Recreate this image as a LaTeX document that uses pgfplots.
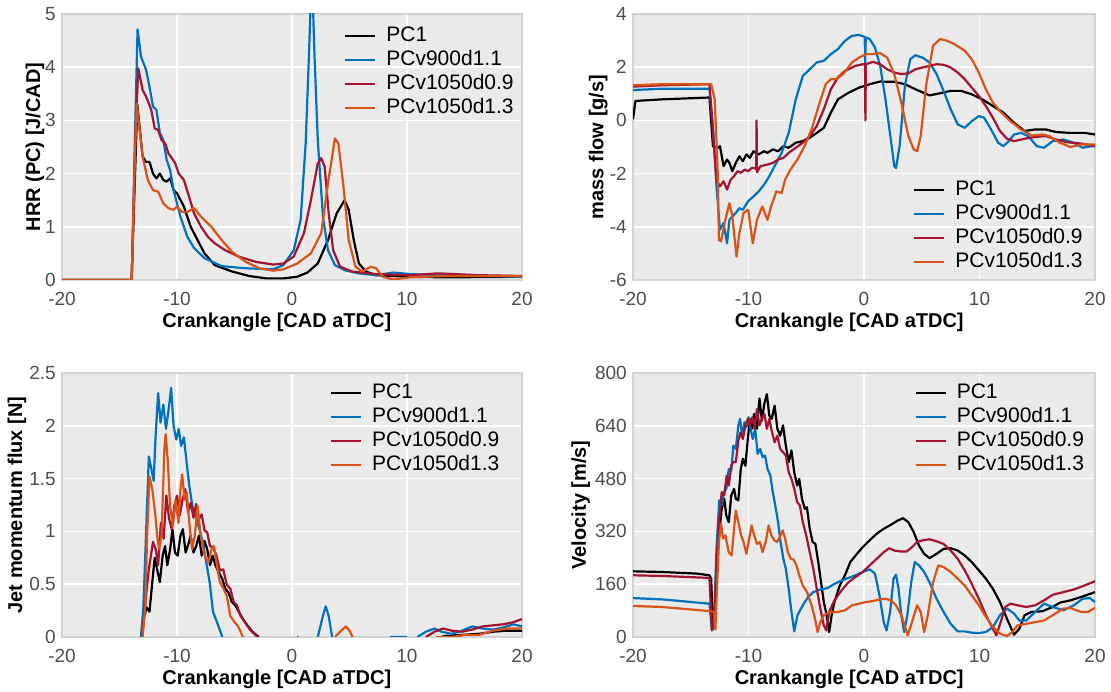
\documentclass[border=0pt]{standalone}
\usepackage{fontspec}
\setmainfont{Liberation Sans}
\usepackage{pgfplots}
\pgfplotsset{compat=1.18}
\definecolor{bgc}{HTML}{EAEAEA}
\definecolor{framec}{HTML}{D2D2D2}
\definecolor{tickc}{HTML}{4D4D4D}
\definecolor{cblk}{HTML}{000000}
\definecolor{cblu}{HTML}{0072BD}
\definecolor{cred}{HTML}{A2142F}
\definecolor{corg}{HTML}{D95319}
\pgfplotsset{
  panel/.style={
    scale only axis,
    xmin=-20, xmax=20,
    axis background/.style={fill=bgc},
    axis line style={draw=framec, line width=1.5pt},
    grid=major, major grid style={white, line width=1.5pt},
    xtick={-20,-10,0,10,20},
    major tick length=0pt,
    /pgf/number format/assume math mode=true,
    tick label style={font=\fontsize{19}{21}\selectfont, text=tickc, inner sep=1pt},
    xticklabel style={yshift=-11pt},
    yticklabel style={xshift=-5pt},
    label style={font=\fontsize{20}{22}\selectfont\bfseries},
    xlabel={Crankangle [CAD aTDC]},
    legend style={draw=none, fill=none, inner sep=0pt, font=\fontsize{21}{23}\selectfont,
      nodes={inner sep=2pt, text height=15pt, text depth=4pt, anchor=west}, row sep=1pt, column sep=8pt},
    legend cell align=left,
    legend image code/.code={\draw[##1] (0pt,0pt) -- (30pt,0pt);},
    every axis plot/.append style={line width=2.2pt, line join=round},
    unbounded coords=jump,
  }
}
\begin{document}
\begin{tikzpicture}
\path[use as bounding box] (0,0) rectangle (1111pt,692pt);
% ---------------- Top-left: HRR
\begin{axis}[panel, at={(62pt,412pt)}, anchor=south west, width=460pt, height=266pt,
  ymin=0, ymax=5, ytick={0,1,2,3,4,5},
  ylabel={HRR (PC) [J/CAD]},
  xlabel style={at={(axis description cs:0.467,-0.158)}, anchor=center},
  ylabel style={at={(axis description cs:-0.059,0.5)}, anchor=center},
  legend style={at={(axis description cs:0.613,0.962)}, anchor=north west}]
\addplot[cblk] coordinates {(-20,0)(-13.95,0)(-13.45,3.3)(-12.99,2.32)(-12.69,2.22)(-12.39,2.22)(-12.09,2.0)(-11.79,1.91)(-11.49,2.0)(-11.19,1.88)(-10.9,1.85)(-10.6,1.91)(-10.3,1.69)(-10.0,1.63)(-9.4,1.38)(-8.81,1.0)(-8.21,0.75)(-7.61,0.5)(-6.72,0.28)(-5.22,0.16)(-3.73,0.075)(-2.24,0.03)(-0.75,0.03)(0.45,0.06)(1.34,0.14)(2.24,0.31)(3.13,0.75)(3.88,1.25)(4.57,1.5)(4.93,1.32)(5.37,0.75)(5.82,0.31)(6.42,0.16)(7.31,0.09)(10.3,0.06)(13.28,0.05)(20,0.06)};
\addlegendentry{PC1}
\addplot[cblu] coordinates {(-20,0)(-13.94,0)(-13.6,3.2)(-13.43,4.71)(-13.3,4.5)(-13.13,4.2)(-12.69,3.95)(-12.39,3.63)(-12.09,3.26)(-11.79,3.2)(-11.49,2.76)(-11.19,2.63)(-10.9,2.26)(-10.6,2.07)(-10.3,1.69)(-9.7,1.19)(-9.1,0.81)(-8.51,0.6)(-7.61,0.41)(-6.12,0.26)(-4.03,0.22)(-1.64,0.2)(-0.75,0.28)(0.15,0.56)(0.75,1.13)(1.19,2.57)(1.49,4.32)(1.72,5.9)(1.94,4.32)(2.24,2.63)(2.69,1.19)(3.13,0.56)(3.73,0.28)(4.63,0.18)(5.82,0.125)(7.31,0.09)(8.81,0.14)(10.3,0.11)(13.28,0.09)(20,0.06)};
\addlegendentry{PCv900d1.1}
\addplot[cred] coordinates {(-20,0)(-13.94,0)(-13.6,2.8)(-13.37,3.98)(-12.99,3.57)(-12.69,3.45)(-12.24,3.2)(-11.94,2.85)(-11.64,2.82)(-11.34,2.63)(-11.04,2.57)(-10.75,2.38)(-10.45,2.29)(-10.15,2.19)(-9.85,2.0)(-9.4,1.88)(-8.96,1.57)(-8.51,1.25)(-7.91,1.0)(-7.31,0.81)(-6.72,0.69)(-5.82,0.56)(-4.63,0.44)(-3.13,0.34)(-1.64,0.29)(-0.75,0.31)(0.15,0.44)(1.04,0.88)(1.64,1.5)(2.24,2.19)(2.54,2.29)(2.84,2.13)(3.19,1.25)(3.58,0.56)(4.18,0.25)(5.22,0.16)(7.31,0.11)(10.3,0.09)(12.69,0.125)(16.27,0.09)(20,0.075)};
\addlegendentry{PCv1050d0.9}
\addplot[corg] coordinates {(-20,0)(-13.94,0)(-13.65,2.4)(-13.49,3.32)(-13.22,2.76)(-12.99,2.32)(-12.54,1.88)(-12.09,1.69)(-11.64,1.66)(-11.19,1.44)(-10.75,1.35)(-10.3,1.32)(-10.0,1.38)(-9.55,1.28)(-9.1,1.28)(-8.51,1.35)(-7.91,1.19)(-7.01,1.0)(-6.12,0.75)(-5.22,0.53)(-4.03,0.34)(-2.84,0.22)(-1.64,0.175)(-0.75,0.2)(0.45,0.31)(1.64,0.5)(2.54,0.88)(3.13,1.82)(3.73,2.66)(4.03,2.57)(4.48,1.75)(4.93,0.75)(5.52,0.25)(6.12,0.16)(6.87,0.25)(7.31,0.22)(7.91,0.06)(8.81,0.01)(10.3,0.05)(13.28,0.075)(20,0.075)};
\addlegendentry{PCv1050d1.3}
\end{axis}
% ---------------- Top-right: mass flow
\begin{axis}[panel, at={(633pt,412pt)}, anchor=south west, width=462pt, height=266pt,
  ymin=-6, ymax=4, ytick={-6,-4,-2,0,2,4},
  ylabel={mass flow [g/s]},
  xlabel style={at={(axis description cs:0.468,-0.158)}, anchor=center},
  ylabel style={at={(axis description cs:-0.075,0.5)}, anchor=center},
  legend style={at={(axis description cs:0.606,0.382)}, anchor=north west}]
\addplot[cblk] coordinates {(-20,0.04)(-19.79,0.73)(-17.5,0.79)(-13.38,0.86)(-13.08,-0.97)(-12.62,-1.03)(-12.47,-0.97)(-12.16,-1.72)(-11.86,-1.47)(-11.65,-1.6)(-11.4,-1.91)(-11.1,-1.6)(-10.79,-1.35)(-10.49,-1.53)(-10.18,-1.28)(-9.88,-1.41)(-9.57,-1.16)(-9.12,-1.28)(-8.66,-1.16)(-8.35,-1.22)(-7.9,-1.09)(-7.44,-1.16)(-6.98,-0.97)(-6.52,-1.03)(-5.91,-0.84)(-5.3,-0.78)(-4.7,-0.65)(-4.09,-0.47)(-3.48,-0.28)(-2.87,0.29)(-2.26,0.79)(-1.34,1.04)(-0.43,1.23)(0.49,1.36)(1.4,1.46)(2.62,1.45)(3.54,1.36)(4.45,1.17)(5.67,0.94)(6.59,1.02)(7.5,1.11)(8.41,1.11)(9.33,0.98)(10.24,0.79)(11.16,0.54)(12.07,0.29)(12.99,-0.09)(13.9,-0.4)(14.82,-0.34)(15.73,-0.34)(16.65,-0.44)(17.87,-0.47)(19.09,-0.47)(20,-0.53)};
\addlegendentry{PC1}
\addplot[cblu] coordinates {(-20,1.14)(-17.5,1.19)(-13.38,1.19)(-13.08,-0.21)(-12.77,-2.48)(-12.47,-4.11)(-12.16,-3.86)(-11.86,-4.62)(-11.65,-3.74)(-11.4,-3.61)(-11.1,-3.48)(-10.79,-3.3)(-10.49,-3.36)(-10.03,-3.04)(-9.57,-2.86)(-9.12,-2.67)(-8.66,-2.42)(-8.2,-2.1)(-7.74,-1.72)(-7.13,-1.22)(-6.52,-0.47)(-5.91,0.79)(-5.3,1.67)(-4.7,1.92)(-4.09,2.18)(-3.48,2.24)(-2.87,2.49)(-2.26,2.68)(-1.65,2.99)(-1.04,3.18)(-0.43,3.21)(0.06,3.14)(0.1,2.1)(0.15,3.12)(0.49,3.06)(0.95,2.74)(1.4,2.05)(1.86,0.79)(2.32,-0.72)(2.62,-1.72)(2.77,-1.79)(3.08,-0.97)(3.54,1.3)(4.0,2.3)(4.45,2.45)(5.06,2.36)(5.67,2.18)(6.28,1.74)(6.89,1.11)(7.5,0.42)(8.11,-0.15)(8.72,-0.28)(9.33,-0.03)(9.94,0.16)(10.4,0.1)(11.0,-0.34)(11.61,-0.84)(12.07,-0.97)(12.53,-0.78)(12.99,-0.53)(13.6,-0.47)(14.21,-0.59)(14.97,-0.97)(15.58,-1.03)(16.34,-0.78)(17.26,-0.72)(18.17,-0.84)(18.93,-1.03)(19.7,-0.97)(20,-0.97)};
\addlegendentry{PCv900d1.1}
\addplot[cred] coordinates {(-20,1.27)(-17.5,1.32)(-13.38,1.36)(-13.08,-0.47)(-12.77,-2.23)(-12.47,-2.48)(-12.16,-2.29)(-11.86,-2.6)(-11.55,-2.23)(-11.25,-2.1)(-10.95,-1.91)(-10.64,-1.97)(-10.34,-1.85)(-10.03,-1.91)(-9.73,-1.79)(-9.42,-1.79)(-9.33,-1.85)(-9.3,0)(-9.27,-1.95)(-8.96,-1.72)(-8.35,-1.66)(-7.9,-1.6)(-7.44,-1.47)(-6.98,-1.41)(-6.52,-1.22)(-5.91,-1.03)(-5.3,-0.84)(-4.7,-0.59)(-4.09,-0.21)(-3.48,0.42)(-2.87,1.17)(-2.26,1.61)(-1.65,1.86)(-0.73,2.05)(-0.12,2.11)(0.09,2.11)(0.12,0)(0.16,2.11)(0.79,2.2)(1.4,2.11)(2.01,1.92)(2.62,1.8)(3.23,1.74)(3.84,1.77)(4.45,1.92)(5.06,1.99)(5.67,2.05)(6.28,2.11)(6.89,2.09)(7.5,1.99)(8.11,1.8)(8.72,1.55)(9.33,1.23)(9.94,0.92)(10.55,0.54)(11.16,0.1)(11.77,-0.4)(12.38,-0.69)(12.99,-0.78)(13.9,-0.69)(14.82,-0.62)(15.73,-0.59)(16.65,-0.72)(17.56,-0.82)(18.78,-0.87)(20,-0.97)};
\addlegendentry{PCv1050d0.9}
\addplot[corg] coordinates {(-20,1.32)(-17.5,1.36)(-13.23,1.36)(-12.93,0.79)(-12.68,-1.72)(-12.56,-4.49)(-12.38,-4.55)(-12.01,-3.74)(-11.65,-3.11)(-11.4,-3.61)(-11.04,-5.12)(-10.79,-4.24)(-10.43,-3.48)(-10.03,-3.36)(-9.63,-4.62)(-9.27,-3.74)(-8.81,-3.24)(-8.35,-3.74)(-8.05,-3.24)(-7.59,-2.67)(-7.13,-2.73)(-6.83,-2.23)(-6.37,-1.85)(-5.76,-1.47)(-5.15,-0.97)(-4.54,-0.34)(-3.93,0.54)(-3.32,1.36)(-2.87,1.55)(-2.41,1.55)(-1.8,1.74)(-1.04,2.18)(-0.43,2.36)(0.18,2.49)(0.79,2.49)(1.4,2.53)(2.01,2.36)(2.62,1.74)(3.23,0.67)(3.84,-0.59)(4.3,-1.09)(4.6,-1.16)(4.91,-0.59)(5.37,1.3)(5.98,2.81)(6.59,3.06)(7.2,2.99)(7.8,2.87)(8.72,2.62)(9.33,2.3)(9.94,1.8)(10.55,1.17)(11.16,0.67)(11.77,0.35)(12.68,-0.03)(13.6,-0.34)(14.51,-0.57)(15.43,-0.53)(16.04,-0.59)(16.95,-0.84)(17.87,-1.0)(18.78,-0.91)(20,-0.91)};
\addlegendentry{PCv1050d1.3}
\end{axis}
% ---------------- Bottom-left: jet momentum flux
\begin{axis}[panel, at={(62pt,55pt)}, anchor=south west, width=460pt, height=264pt,
  ymin=0, ymax=2.5, ytick={0,0.5,1,1.5,2,2.5},
  ylabel={Jet momentum flux [N]},
  xlabel style={at={(axis description cs:0.467,-0.16)}, anchor=center},
  ylabel style={at={(axis description cs:-0.098,0.5)}, anchor=center},
  legend style={at={(axis description cs:0.582,0.97)}, anchor=north west}]
\addplot[cblk] coordinates {(-13.13,0)(-12.84,0.2)(-12.63,0.28)(-12.39,0.24)(-12.15,0.52)(-11.94,0.75)(-11.73,0.64)(-11.49,0.52)(-11.25,0.77)(-11.04,0.86)(-10.84,0.68)(-10.6,0.83)(-10.39,1.02)(-10.18,0.8)(-9.94,0.77)(-9.7,0.96)(-9.49,1.02)(-9.25,0.8)(-9.01,0.88)(-8.81,0.96)(-8.57,0.8)(-8.33,0.86)(-8.09,0.96)(-7.85,0.77)(-7.61,0.91)(-7.37,0.83)(-7.13,0.68)(-6.9,0.77)(-6.66,0.68)(-6.36,0.61)(-6.06,0.55)(-5.82,0.46)(-5.52,0.42)(-5.22,0.33)(-4.93,0.3)(-4.63,0.24)(-4.27,0.17)(-3.88,0.11)(-3.43,0.05)(-2.9,0)(-2.8,nan)(13.0,0)(13.28,0.01)(14.78,0.02)(16.27,0.03)(17.46,0.05)(18.66,0.06)(20,0.06)};
\addlegendentry{PC1}
\addplot[cblu] coordinates {(-13.13,0)(-12.93,0.27)(-12.75,0.8)(-12.45,1.71)(-12.24,1.6)(-12.03,1.48)(-11.85,1.93)(-11.64,2.31)(-11.43,2.03)(-11.19,2.2)(-10.96,1.97)(-10.72,2.16)(-10.51,2.36)(-10.3,2.0)(-10.06,1.87)(-9.85,1.97)(-9.64,1.81)(-9.4,1.89)(-9.16,1.65)(-8.93,1.43)(-8.66,1.24)(-8.36,1.15)(-8.06,1.02)(-7.76,0.9)(-7.46,0.71)(-7.16,0.52)(-6.87,0.24)(-6.42,0.11)(-6.06,0)(-6,nan)(2.24,0)(2.69,0.2)(2.93,0.29)(3.19,0.2)(3.49,0)(3.6,nan)(8.51,0)(10.0,0)(10.2,nan)(10.9,0)(11.64,0.05)(12.39,0.08)(12.99,0.05)(13.88,0.03)(14.78,0.06)(15.67,0.1)(16.57,0.08)(17.46,0.07)(18.36,0.09)(19.25,0.12)(20,0.1)};
\addlegendentry{PCv900d1.1}
\addplot[cred] coordinates {(-13.04,0)(-12.75,0.33)(-12.45,0.64)(-12.09,0.9)(-11.85,0.83)(-11.64,0.68)(-11.4,1.08)(-11.16,0.93)(-10.93,1.34)(-10.69,1.12)(-10.45,1.02)(-10.24,1.24)(-10.0,1.34)(-9.76,1.15)(-9.52,1.3)(-9.28,1.4)(-9.04,1.18)(-8.81,1.27)(-8.57,1.13)(-8.33,1.26)(-8.09,1.12)(-7.85,1.16)(-7.61,1.01)(-7.37,0.99)(-7.13,0.86)(-6.87,0.85)(-6.57,0.77)(-6.27,0.63)(-5.97,0.64)(-5.67,0.49)(-5.37,0.46)(-5.07,0.33)(-4.78,0.3)(-4.48,0.2)(-4.09,0.14)(-3.73,0.08)(-3.28,0.03)(-2.99,0)(-2.9,nan)(0.45,0)(0.55,0)(0.6,nan)(11.64,0)(12.39,0.05)(13.13,0.08)(13.88,0.06)(14.78,0.05)(15.67,0.07)(16.57,0.1)(17.46,0.11)(18.36,0.12)(19.25,0.14)(20,0.17)};
\addlegendentry{PCv1050d0.9}
\addplot[corg] coordinates {(-12.99,0)(-12.75,0.3)(-12.6,0.96)(-12.39,1.52)(-12.15,1.4)(-11.91,1.18)(-11.73,0.96)(-11.55,0.83)(-11.34,0.96)(-11.1,1.78)(-10.99,1.92)(-10.81,1.68)(-10.6,1.24)(-10.36,1.05)(-10.12,1.3)(-9.88,1.08)(-9.7,1.4)(-9.55,1.54)(-9.34,1.3)(-9.16,1.37)(-8.93,1.08)(-8.69,0.83)(-8.45,0.96)(-8.21,1.24)(-7.97,0.99)(-7.73,0.83)(-7.49,0.74)(-7.25,0.71)(-7.01,0.83)(-6.78,0.86)(-6.54,0.68)(-6.27,0.52)(-5.97,0.46)(-5.67,0.39)(-5.37,0.2)(-4.99,0.14)(-4.63,0.09)(-4.27,0)(-4.2,nan)(3.73,0)(4.18,0.05)(4.69,0.1)(4.99,0.06)(5.28,0)(5.4,nan)(12.54,0)(13.88,0)(15.07,0.02)(16.27,0.02)(17.46,0.06)(18.66,0.08)(20,0.08)};
\addlegendentry{PCv1050d1.3}
\end{axis}
% ---------------- Bottom-right: velocity
\begin{axis}[panel, at={(633pt,55pt)}, anchor=south west, width=462pt, height=264pt,
  ymin=0, ymax=800, ytick={0,160,320,480,640,800},
  ylabel={Velocity [m/s]},
  xlabel style={at={(axis description cs:0.468,-0.16)}, anchor=center},
  ylabel style={at={(axis description cs:-0.113,0.5)}, anchor=center},
  legend style={at={(axis description cs:0.609,0.97)}, anchor=north west}]
\addplot[cblk] coordinates {(-20,199)(-17.5,197)(-14.45,192)(-13.38,187)(-13.23,177)(-13.08,25)(-12.93,45)(-12.77,217)(-12.56,308)(-12.32,388)(-12.1,419)(-11.92,368)(-11.71,348)(-11.49,429)(-11.25,449)(-11.1,419)(-10.88,414)(-10.67,509)(-10.49,540)(-10.27,519)(-10.06,600)(-9.88,661)(-9.7,631)(-9.51,676)(-9.27,631)(-9.05,723)(-8.84,656)(-8.63,707)(-8.41,736)(-8.2,671)(-7.99,661)(-7.74,701)(-7.5,631)(-7.26,610)(-7.01,641)(-6.77,580)(-6.52,530)(-6.28,565)(-6.04,499)(-5.79,459)(-5.61,479)(-5.37,419)(-5.12,388)(-4.94,393)(-4.7,328)(-4.45,288)(-4.21,282)(-3.96,227)(-3.72,166)(-3.48,106)(-3.23,66)(-3.02,15)(-2.8,66)(-2.56,106)(-2.1,156)(-1.65,187)(-1.19,227)(-0.73,247)(-0.12,272)(0.49,293)(1.1,313)(1.71,328)(2.32,340)(2.93,353)(3.38,360)(3.84,348)(4.3,318)(4.76,277)(5.21,252)(5.67,239)(6.28,252)(6.89,267)(7.5,269)(8.11,262)(8.72,247)(9.33,227)(9.94,202)(10.55,177)(11.16,146)(11.77,106)(12.38,55)(12.99,7)(13.45,25)(13.9,66)(14.51,76)(15.43,78)(16.34,91)(16.95,104)(17.87,111)(18.78,121)(20,136)};
\addlegendentry{PC1}
\addplot[cblu] coordinates {(-20,118)(-17.5,114)(-13.38,101)(-13.17,20)(-12.99,45)(-12.77,267)(-12.53,414)(-12.32,398)(-12.13,439)(-11.92,449)(-11.71,509)(-11.49,504)(-11.31,580)(-11.1,570)(-10.88,641)(-10.73,661)(-10.55,610)(-10.34,651)(-10.18,636)(-10.0,666)(-9.82,631)(-9.63,600)(-9.42,631)(-9.21,555)(-8.99,570)(-8.78,545)(-8.57,550)(-8.35,509)(-8.11,489)(-7.9,439)(-7.68,398)(-7.44,348)(-7.23,288)(-6.98,237)(-6.77,207)(-6.52,146)(-6.28,76)(-6.04,17)(-5.76,66)(-5.3,96)(-4.85,121)(-4.39,136)(-3.78,144)(-3.17,148)(-2.56,161)(-1.95,171)(-1.34,179)(-0.73,187)(-0.12,197)(0.49,205)(0.95,192)(1.34,126)(1.71,45)(1.95,20)(2.26,76)(2.56,177)(2.77,189)(2.99,146)(3.23,66)(3.48,15)(3.75,66)(4.09,166)(4.39,227)(4.76,217)(5.21,197)(5.67,166)(6.28,116)(6.89,76)(7.5,40)(8.11,17)(8.72,17)(9.33,13)(9.94,12)(10.55,15)(11.16,30)(11.77,66)(12.38,86)(12.99,71)(13.45,50)(14.05,50)(14.82,76)(15.58,101)(16.34,91)(17.26,81)(18.17,96)(18.93,116)(19.54,118)(20,106)};
\addlegendentry{PCv900d1.1}
\addplot[cred] coordinates {(-20,187)(-17.5,185)(-13.38,179)(-13.17,20)(-12.99,35)(-12.77,217)(-12.56,348)(-12.32,439)(-12.1,429)(-11.89,489)(-11.71,459)(-11.49,519)(-11.31,530)(-11.1,530)(-10.88,595)(-10.7,620)(-10.49,600)(-10.27,641)(-10.06,661)(-9.88,641)(-9.66,666)(-9.48,631)(-9.27,691)(-9.05,641)(-8.84,661)(-8.63,676)(-8.41,631)(-8.2,661)(-7.99,625)(-7.74,590)(-7.5,610)(-7.26,570)(-7.01,560)(-6.77,550)(-6.52,499)(-6.28,479)(-6.04,449)(-5.79,409)(-5.55,398)(-5.3,348)(-5.0,308)(-4.7,257)(-4.39,207)(-4.09,146)(-3.78,86)(-3.48,35)(-3.26,20)(-3.02,76)(-2.56,111)(-1.95,141)(-1.34,166)(-0.73,182)(-0.12,197)(0.49,217)(1.1,237)(1.71,257)(2.17,269)(2.62,262)(3.23,259)(3.69,259)(4.15,272)(4.6,288)(5.06,293)(5.67,296)(6.28,290)(6.89,282)(7.5,262)(8.11,237)(8.72,202)(9.33,161)(9.94,116)(10.55,66)(11.16,25)(11.46,5)(11.83,45)(12.23,91)(12.68,101)(13.29,96)(14.05,91)(14.82,96)(15.58,111)(16.34,128)(17.26,136)(18.17,144)(19.09,156)(20,169)};
\addlegendentry{PCv1050d0.9}
\addplot[corg] coordinates {(-20,94)(-17.5,91)(-13.23,78)(-13.02,76)(-12.87,23)(-12.71,166)(-12.56,288)(-12.38,343)(-12.2,298)(-12.01,308)(-11.71,257)(-11.46,247)(-11.25,328)(-11.1,383)(-10.88,348)(-10.64,308)(-10.43,288)(-10.18,252)(-9.94,298)(-9.73,338)(-9.51,308)(-9.27,282)(-9.02,288)(-8.78,257)(-8.51,288)(-8.26,338)(-8.02,308)(-7.77,293)(-7.53,288)(-7.29,303)(-7.04,323)(-6.83,298)(-6.59,257)(-6.34,237)(-6.1,235)(-5.85,217)(-5.61,187)(-5.3,156)(-4.94,136)(-4.54,96)(-4.24,55)(-4.02,15)(-3.78,45)(-3.48,66)(-3.02,74)(-2.26,76)(-1.65,81)(-1.04,96)(-0.43,101)(0.18,106)(0.79,109)(1.4,114)(1.86,116)(2.32,111)(2.77,96)(3.23,66)(3.6,25)(3.78,5)(4.15,45)(4.6,96)(4.91,76)(5.21,15)(5.52,66)(5.98,166)(6.43,217)(6.89,212)(7.5,197)(8.11,177)(8.72,156)(9.33,126)(9.94,96)(10.55,61)(11.16,30)(11.77,10)(12.38,3)(12.84,15)(13.29,35)(14.05,40)(14.82,45)(15.58,50)(16.34,66)(17.26,86)(17.87,88)(18.78,76)(19.39,76)(20,88)};
\addlegendentry{PCv1050d1.3}
\end{axis}
\end{tikzpicture}
\end{document}
